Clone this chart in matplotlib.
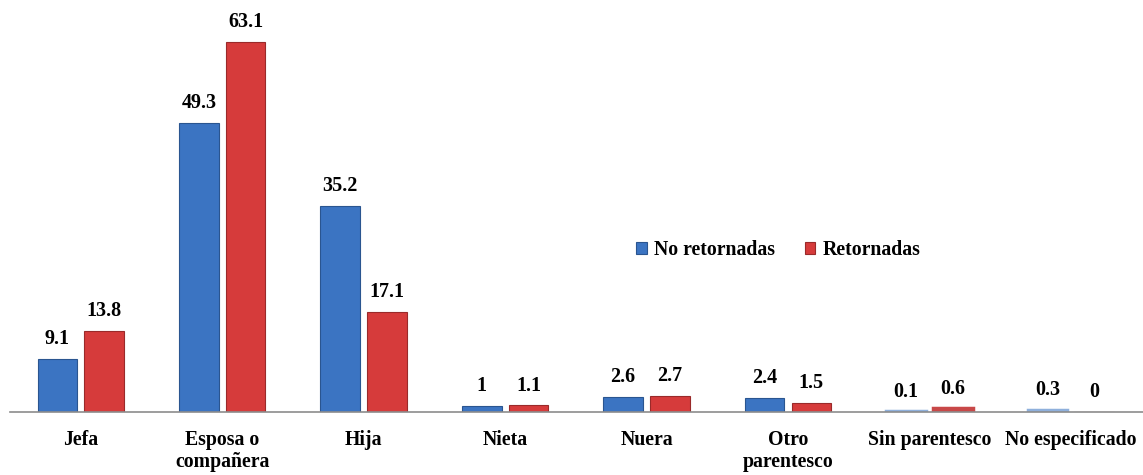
import matplotlib.pyplot as plt
import numpy as np

# Datos
categorias = ["Jefa", "Esposa o\ncompañera", "Hija", "Nieta", "Nuera",
              "Otro\nparentesco", "Sin parentesco", "No especificado"]
no_retornadas = [9.1, 49.3, 35.2, 1, 2.6, 2.4, 0.1, 0.3]
retornadas = [13.8, 63.1, 17.1, 1.1, 2.7, 1.5, 0.6, 0]
series = ["No retornadas", "Retornadas"]

plt.rcParams['font.family'] = ['Liberation Serif', 'DejaVu Serif']
plt.rcParams['font.weight'] = 'bold'

fig = plt.figure(figsize=(11.43, 4.75), dpi=100)
ax = fig.add_axes([0.009, 0.133, 0.991, 0.867])

x = np.arange(len(categorias))
ancho = 0.28
sep = 0.05

b1 = ax.bar(x - ancho/2 - sep/2, no_retornadas, ancho, color='#3b74c2',
            edgecolor='#2a5590', linewidth=0.8, label=series[0])
b2 = ax.bar(x + ancho/2 + sep/2, retornadas, ancho, color='#d63b3b',
            edgecolor='#9a2a2a', linewidth=0.8, label=series[1])

# barras muy pequeñas: se ven como una franja clara
for barras, claro in ((b1, '#8fb0dc'), (b2, '#c84848')):
    for b in barras:
        if 0 < b.get_height() < 1:
            b.set_facecolor(claro)
            b.set_edgecolor(claro)
            b.set_linewidth(2.5)

for barras in (b1, b2):
    for b in barras:
        v = b.get_height()
        ax.annotate(f"{v:g}", (b.get_x() + b.get_width()/2, v),
                    xytext=(0, 7), textcoords='offset points',
                    ha='center', va='bottom', fontsize=14.5, fontweight='bold')

ax.set_xlim(-0.498, 7.51)
ax.set_ylim(0, 70.3)
ax.set_xticks(x)
ax.set_xticklabels(categorias, fontsize=14.2, fontweight='bold', linespacing=1.15)
ax.tick_params(axis='x', length=0, pad=13)
ax.set_yticks([])
for s in ('left', 'right', 'top'):
    ax.spines[s].set_visible(False)
ax.spines['bottom'].set_color('#8c8c8c')
ax.spines['bottom'].set_linewidth(1.2)

ax.legend(loc='center', bbox_to_anchor=(0.678, 0.393), ncol=2, frameon=False,
          prop={'size': 14.2, 'weight': 'bold'}, handlelength=0.55,
          handleheight=0.55, handletextpad=0.35, columnspacing=1.5)

fig.savefig('out.png', dpi=100)
